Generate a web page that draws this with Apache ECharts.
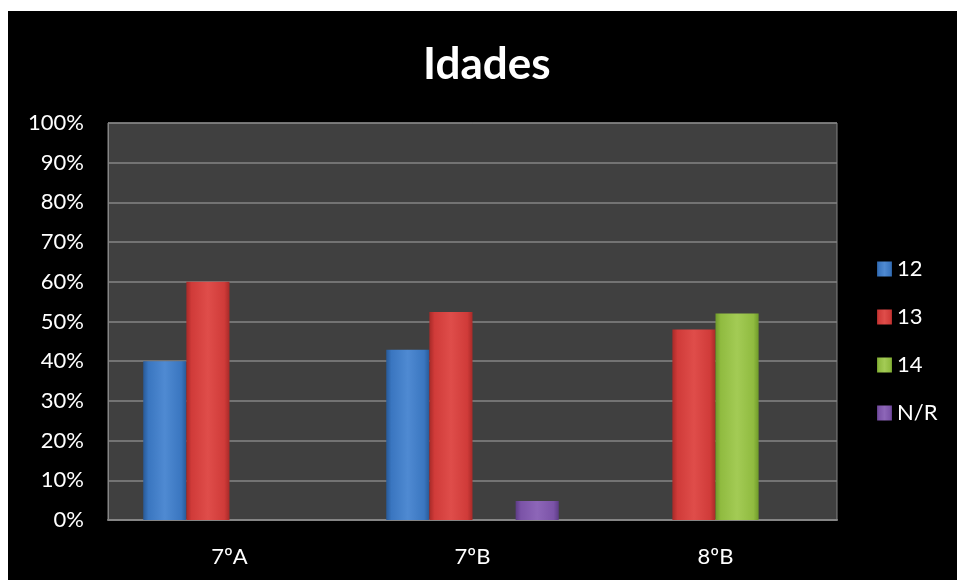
<!DOCTYPE html>
<html>
<head>
<meta charset="utf-8">
<script src="https://cdn.jsdelivr.net/npm/echarts@6/dist/echarts.min.js"></script>
<style>
  html, body { margin: 0; padding: 0; background: #fff; }
  #chart { position: absolute; left: 8px; top: 11px; width: 949px; height: 569px; background: #000; }
</style>
</head>
<body>
<div id="chart"></div>
<script>
// categories and values (percent)
var classes = ['7ºA', '7ºB', '8ºB']
var age12 = [40, 42.86, 0]
var age13 = [60, 52.38, 48]
var age14 = [0, 0, 52]
var ageNR = [0, 4.76, 0]
var yTicks = [0, 10, 20, 30, 40, 50, 60, 70, 80, 90, 100]

var font = 'Lato, "Open Sans", sans-serif'

function bevel (dark, mid, light) {
  return new echarts.graphic.LinearGradient(0, 0, 1, 0, [
    { offset: 0, color: dark },
    { offset: 0.12, color: mid },
    { offset: 0.5, color: light },
    { offset: 0.88, color: mid },
    { offset: 1, color: dark }
  ])
}

function bar (name, data, dark, mid, light) {
  return {
    name: name,
    type: 'bar',
    data: data.map(function (v) { return v === 0 ? null : v }),
    barGap: '0%',
    barCategoryGap: '29%',
    itemStyle: { color: bevel(dark, mid, light) }
  }
}

var chart = echarts.init(document.getElementById('chart'))
chart.setOption({
  backgroundColor: '#000',
  title: {
    text: 'Idades',
    left: 410,
    top: 27,
    textStyle: { color: '#fff', fontSize: 44, fontWeight: 'bold', fontFamily: font }
  },
  color: ['#3b78c3', '#d43d3b', '#93bd42', '#7d55a9'],
  legend: {
    orient: 'vertical',
    left: 864,
    top: 242,
    itemWidth: 15,
    itemHeight: 15,
    itemGap: 26,
    icon: 'rect',
    textStyle: { color: '#fff', fontSize: 22, fontFamily: font },
    data: ['12', '13', '14', 'N/R']
  },
  grid: {
    left: 100, right: 120, top: 112, bottom: 60,
    show: true,
    backgroundColor: '#404040',
    borderColor: '#858585',
    borderWidth: 1
  },
  xAxis: {
    type: 'category',
    data: classes,
    axisLine: { lineStyle: { color: '#858585', width: 2 } },
    axisTick: { show: false },
    axisLabel: { color: '#fff', fontSize: 22, fontFamily: font, margin: 26 }
  },
  yAxis: {
    type: 'value',
    min: yTicks[0],
    max: yTicks[yTicks.length - 1],
    interval: 10,
    axisLine: { show: true, lineStyle: { color: '#858585' } },
    axisTick: { show: false },
    splitLine: { lineStyle: { color: '#858585', width: 1.5 } },
    axisLabel: { color: '#fff', fontSize: 22, fontFamily: font, margin: 24, formatter: '{value}%' }
  },
  series: [
    bar('12', age12, '#285a98', '#3a76c0', '#4f8ad2'),
    bar('13', age13, '#a82a28', '#d03b39', '#df4d4a'),
    bar('14', age14, '#6f9a2a', '#90bb40', '#a3cb55'),
    bar('N/R', ageNR, '#5d3c86', '#7b53a7', '#8d66b8')
  ]
})
</script>
</body>
</html>
